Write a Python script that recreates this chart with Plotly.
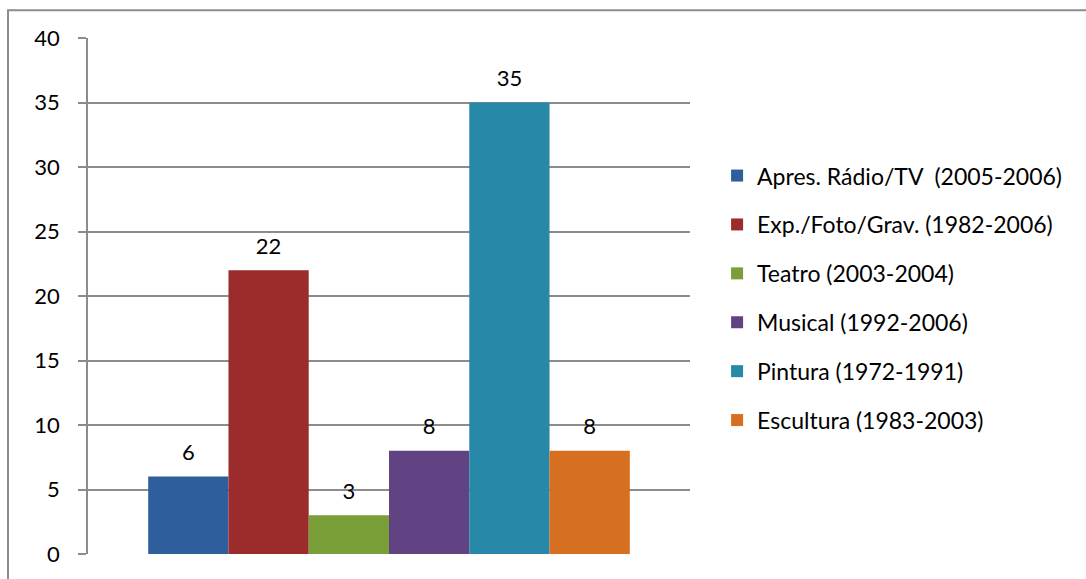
import plotly.graph_objects as go

# Series shown as grouped bars within a single category
series_names = [
    "Apres. Rádio/TV  (2005-2006)",
    "Exp./Foto/Grav. (1982-2006)",
    "Teatro (2003-2004)",
    "Musical (1992-2006)",
    "Pintura (1972-1991)",
    "Escultura (1983-2003)",
]
series_values = [6, 22, 3, 8, 35, 8]
series_colors = ["#2F5E9C", "#9C2B2B", "#7A9E38", "#614383", "#2789A7", "#D66F1F"]
category = [""]
y_ticks = [0, 5, 10, 15, 20, 25, 30, 35, 40]

FONT = "Lato, 'Open Sans', sans-serif"
GRID = "#8C8C8C"

fig = go.Figure()
for i, (name, val, col) in enumerate(zip(series_names, series_values, series_colors)):
    fig.add_trace(go.Bar(
        x=category,
        y=[val],
        name=name,
        legendgroup=f"g{i}",
        offsetgroup=str(i),
        marker=dict(color=col, line=dict(width=0)),
        hoverinfo="name+y",
    ))

# Value labels, placed above each bar with the same grouping as the bars
for i, (name, val) in enumerate(zip(series_names, series_values)):
    fig.add_trace(go.Scatter(
        x=category,
        y=[val],
        mode="markers+text",
        text=[str(val)],
        textposition="top center",
        textfont=dict(family=FONT, size=22, color="#000000"),
        marker=dict(size=16, opacity=0),
        offsetgroup=str(i),
        showlegend=False,
        hoverinfo="skip",
        cliponaxis=False,
    ))

fig.update_layout(
    width=1086,
    height=579,
    margin=dict(l=88, r=396, t=38, b=20),
    paper_bgcolor="#FFFFFF",
    plot_bgcolor="#FFFFFF",
    barmode="group",
    bargap=0.2,
    bargroupgap=0,
    scattermode="group",
    scattergap=0.2,
    font=dict(family=FONT, size=22, color="#000000"),
    showlegend=True,
    legend=dict(
        x=1.045, xanchor="left",
        y=0.775, yanchor="top",
        font=dict(family=FONT, size=23, color="#000000"),
        tracegroupgap=16,
        itemwidth=30,
        bgcolor="rgba(0,0,0,0)",
    ),
    xaxis=dict(
        showticklabels=False,
        showgrid=False,
        showline=False,
        ticks="",
        zeroline=False,
    ),
    yaxis=dict(
        range=[0, 40],
        tickvals=y_ticks,
        ticktext=[str(v) for v in y_ticks],
        showgrid=True,
        gridcolor=GRID,
        gridwidth=1.5,
        showline=True,
        linecolor=GRID,
        linewidth=1.5,
        ticks="outside",
        ticklen=8,
        tickcolor=GRID,
        tickwidth=1.5,
        ticklabelstandoff=14,
        zeroline=False,
        tickfont=dict(family=FONT, size=22, color="#000000"),
    ),
)

# Chart frame
fig.add_shape(
    type="rect", xref="paper", yref="paper",
    x0=(8 - 88) / 602, x1=(1100 - 88) / 602,
    y0=-(600 - 559) / 521, y1=1 + (38 - 10) / 521,
    line=dict(color="#8C8C8C", width=2),
    fillcolor="rgba(0,0,0,0)",
    layer="below",
)

fig.write_html("out.html")
